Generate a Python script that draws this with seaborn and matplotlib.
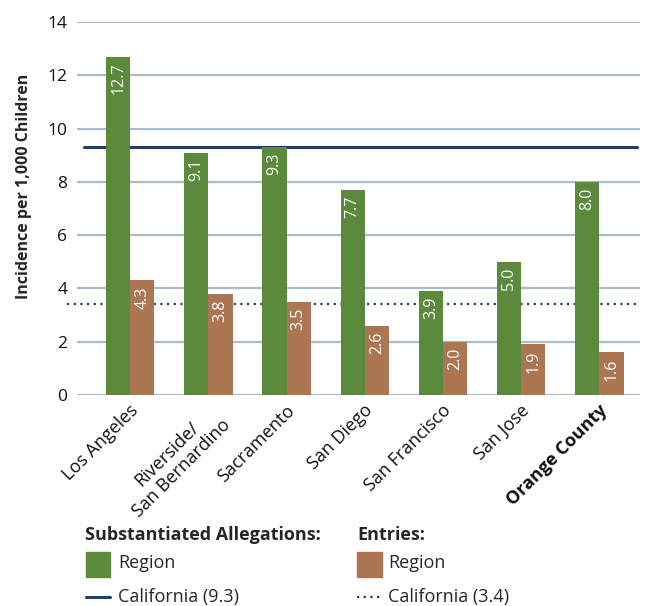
import pandas as pd
import seaborn as sns
import matplotlib.pyplot as plt
import matplotlib.transforms as mtransforms
from matplotlib.patches import Rectangle
from matplotlib.lines import Line2D

# data
regions = ['Los Angeles', 'Riverside/\nSan Bernardino', 'Sacramento', 'San Diego',
           'San Francisco', 'San Jose', 'Orange County']
allegations = [12.7, 9.1, 9.3, 7.7, 3.9, 5.0, 8.0]
entries = [4.3, 3.8, 3.5, 2.6, 2.0, 1.9, 1.6]
ca_allegations = 9.3
ca_entries = 3.4

GREEN = '#5b8a3c'
BROWN = '#ad7653'
NAVY = '#1c3f6e'
GRID = '#a9bccd'

df = pd.DataFrame({
    'Region': regions * 2,
    'Value': allegations + entries,
    'Measure': ['Substantiated Allegations'] * len(regions) + ['Entries'] * len(regions),
})

sns.set_style('white')
plt.rcParams['font.family'] = ['Open Sans', 'DejaVu Sans']

W, H = 649, 606
fig = plt.figure(figsize=(W / 100, H / 100), dpi=100)
ax = fig.add_axes([77 / W, 1 - 395 / H, (640 - 77) / W, (395 - 22) / H])

def fx(px):
    return px / W

def fy(py):
    return 1 - py / H

sns.barplot(data=df, x='Region', y='Value', hue='Measure',
            palette=[GREEN, BROWN], width=0.62, gap=0, saturation=1,
            linewidth=0, legend=False, ax=ax, zorder=3)

ax.set_ylim(0, 14)
ax.set_xlim(-0.68, 6.52)
ax.set_yticks(range(0, 15, 2))
ax.yaxis.grid(True, color=GRID, linewidth=1.6, zorder=0)
ax.set_axisbelow(True)
for s in ax.spines.values():
    s.set_visible(False)
ax.tick_params(axis='both', length=0, labelsize=12.5, colors='#111111')
ax.tick_params(axis='y', pad=7)
ax.tick_params(axis='x', labelsize=13)

# value labels inside the bars
for cont in ax.containers:
    for bar in cont:
        h = bar.get_height()
        ax.text(bar.get_x() + bar.get_width() / 2, h - 0.22, f'{h:.1f}',
                rotation=90, ha='center', va='top', color='white',
                fontsize=11.5, zorder=4)

# California reference lines (behind the bars)
ax.axhline(ca_allegations, xmin=0.012, xmax=0.995, color=NAVY, lw=2.2, zorder=2)
ax.axhline(ca_entries, xmin=-0.018, xmax=1.0, color=NAVY, lw=1.6,
           linestyle=(0, (1, 2)), zorder=2, clip_on=False)

ax.set_xlabel('')
ax.set_ylabel('Incidence per 1,000 Children', fontsize=11.5, fontweight='bold')
ax.yaxis.set_label_coords(-0.08, 0.56)

offset = mtransforms.ScaledTranslation(-1 / 72, -1 / 72, fig.dpi_scale_trans)
for lbl in ax.get_xticklabels():
    lbl.set_rotation(45)
    lbl.set_ha('right')
    lbl.set_va('top')
    lbl.set_rotation_mode('anchor')
    lbl.set_multialignment('center')
    lbl.set_transform(lbl.get_transform() + offset)
    if lbl.get_text() == 'Orange County':
        lbl.set_fontweight('bold')

# legend drawn below the chart
fs = 13
fig.text(fx(85), fy(535), 'Substantiated Allegations:', fontsize=fs,
         fontweight='bold', va='center')
fig.text(fx(357), fy(535), 'Entries:', fontsize=fs, fontweight='bold', va='center')
fig.add_artist(Rectangle((fx(86), fy(577)), fx(24), 25 / H, color=GREEN,
                         transform=fig.transFigure))
fig.add_artist(Rectangle((fx(357), fy(577)), fx(25), 25 / H, color=BROWN,
                         transform=fig.transFigure))
fig.text(fx(118), fy(563), 'Region', fontsize=fs, va='center')
fig.text(fx(388), fy(563), 'Region', fontsize=fs, va='center')
fig.add_artist(Line2D([fx(86), fx(110)], [fy(597), fy(597)], color=NAVY, lw=2.2,
                      transform=fig.transFigure))
fig.add_artist(Line2D([fx(357), fx(382)], [fy(597), fy(597)], color=NAVY, lw=1.6,
                      linestyle=(0, (1, 2)), transform=fig.transFigure))
fig.text(fx(118), fy(597), 'California (9.3)', fontsize=fs, va='center')
fig.text(fx(388), fy(597), 'California (3.4)', fontsize=fs, va='center')

fig.savefig('out.png', dpi=100)
